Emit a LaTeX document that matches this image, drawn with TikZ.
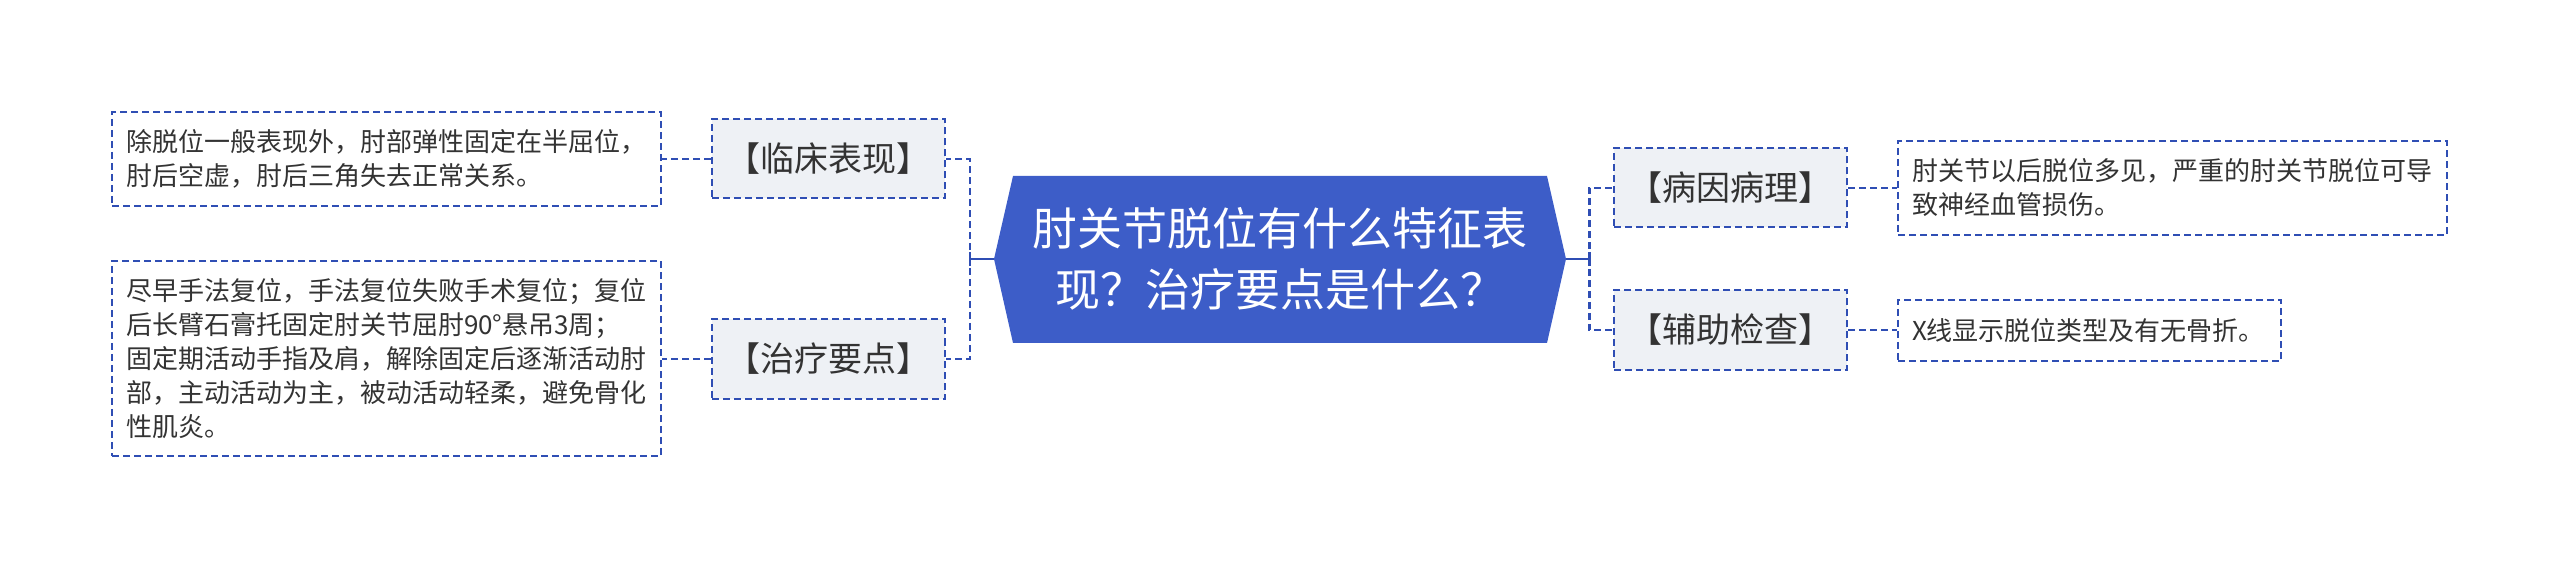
\documentclass[tikz,border=0pt]{standalone}
\usepackage{fontspec}
\setmainfont{Noto Sans CJK SC}
\usetikzlibrary{calc}
\definecolor{cblue}{HTML}{3D5DC8}
\definecolor{lblue}{HTML}{2F4EB4}
\definecolor{bfill}{HTML}{EEF1F5}
\definecolor{tdark}{HTML}{333333}
\begin{document}
\begin{tikzpicture}[x=1pt,y=-1pt,
  dashline/.style={draw=lblue, dash pattern=on 7pt off 4pt, line width=2pt},
  conn/.style={draw=lblue, dash pattern=on 7pt off 4pt, line width=2.6pt},
  stem/.style={draw=lblue, line width=2.6pt},
  leafbox/.style={dashline, fill=white, inner xsep=14pt, inner ysep=0pt, text=tdark, align=left,
     font=\fontsize{26}{34}\selectfont},
  branchbox/.style={dashline, fill=bfill, minimum width=233pt, minimum height=79pt, inner sep=0pt,
     text=tdark, font=\fontsize{34}{40}\selectfont},
  centerbox/.style={minimum width=572pt, minimum height=167pt, inner sep=0pt, text=white, align=center,
     font=\fontsize{45}{61}\selectfont}
]
\useasboundingbox (0,0) rectangle (2560,569);
% central topic shape
\fill[cblue] (994,259) -- (1013,176) -- (1547,176) -- (1566,259) -- (1547,343) -- (1013,343) -- cycle;
\node[centerbox] (c) at (1280,259) {肘关节脱位有什么特征表\\现？治疗要点是什么？};
% branches
\node[branchbox] (l1) at (828.5,159) {【临床表现】};
\node[branchbox] (l2) at (828.5,359) {【治疗要点】};
\node[branchbox] (r1) at (1730.5,188) {【病因病理】};
\node[branchbox] (r2) at (1730.5,330) {【辅助检查】};
% leaves
\node[leafbox, text width=521pt, minimum height=94pt] (ll1) at (386.5,159)
  {除脱位一般表现外，肘部弹性固定在半屈位，\\肘后空虚，肘后三角失去正常关系。};
\node[leafbox, text width=521pt, minimum height=195pt] (ll2) at (386.5,358.5)
  {尽早手法复位，手法复位失败手术复位；复位\\后长臂石膏托固定肘关节屈肘90°悬吊3周；\\固定期活动手指及肩，解除固定后逐渐活动肘\\部，主动活动为主，被动活动轻柔，避免骨化\\性肌炎。};
\node[leafbox, text width=521pt, minimum height=94pt] (rl1) at (2172.5,188)
  {肘关节以后脱位多见，严重的肘关节脱位可导\\致神经血管损伤。};
\node[leafbox, text width=355pt, minimum height=61pt] (rl2) at (2089.5,330.5)
  {X线显示脱位类型及有无骨折。};
% connectors centre -> branches
\draw[conn] (c.west) -- ++(-24,0) |- (l1.east);
\draw[conn] (c.west) -- ++(-24,0) |- (l2.east);
\draw[conn] (c.east) -- ++(23,0) |- (r1.west);
\draw[conn] (c.east) -- ++(23,0) |- (r2.west);
\draw[stem] (c.west) -- ++(-24,0) ++(0,-7) -- ++(0,14);
\draw[stem] (c.east) -- ++(23,0) ++(0,-7) -- ++(0,14);
% connectors branches -> leaves
\draw[conn] (l1.west) -- (l1.west -| ll1.east);
\draw[conn] (l2.west) -- (l2.west -| ll2.east);
\draw[conn] (r1.east) -- (r1.east -| rl1.west);
\draw[conn] (r2.east) -- (r2.east -| rl2.west);
\end{tikzpicture}
\end{document}
